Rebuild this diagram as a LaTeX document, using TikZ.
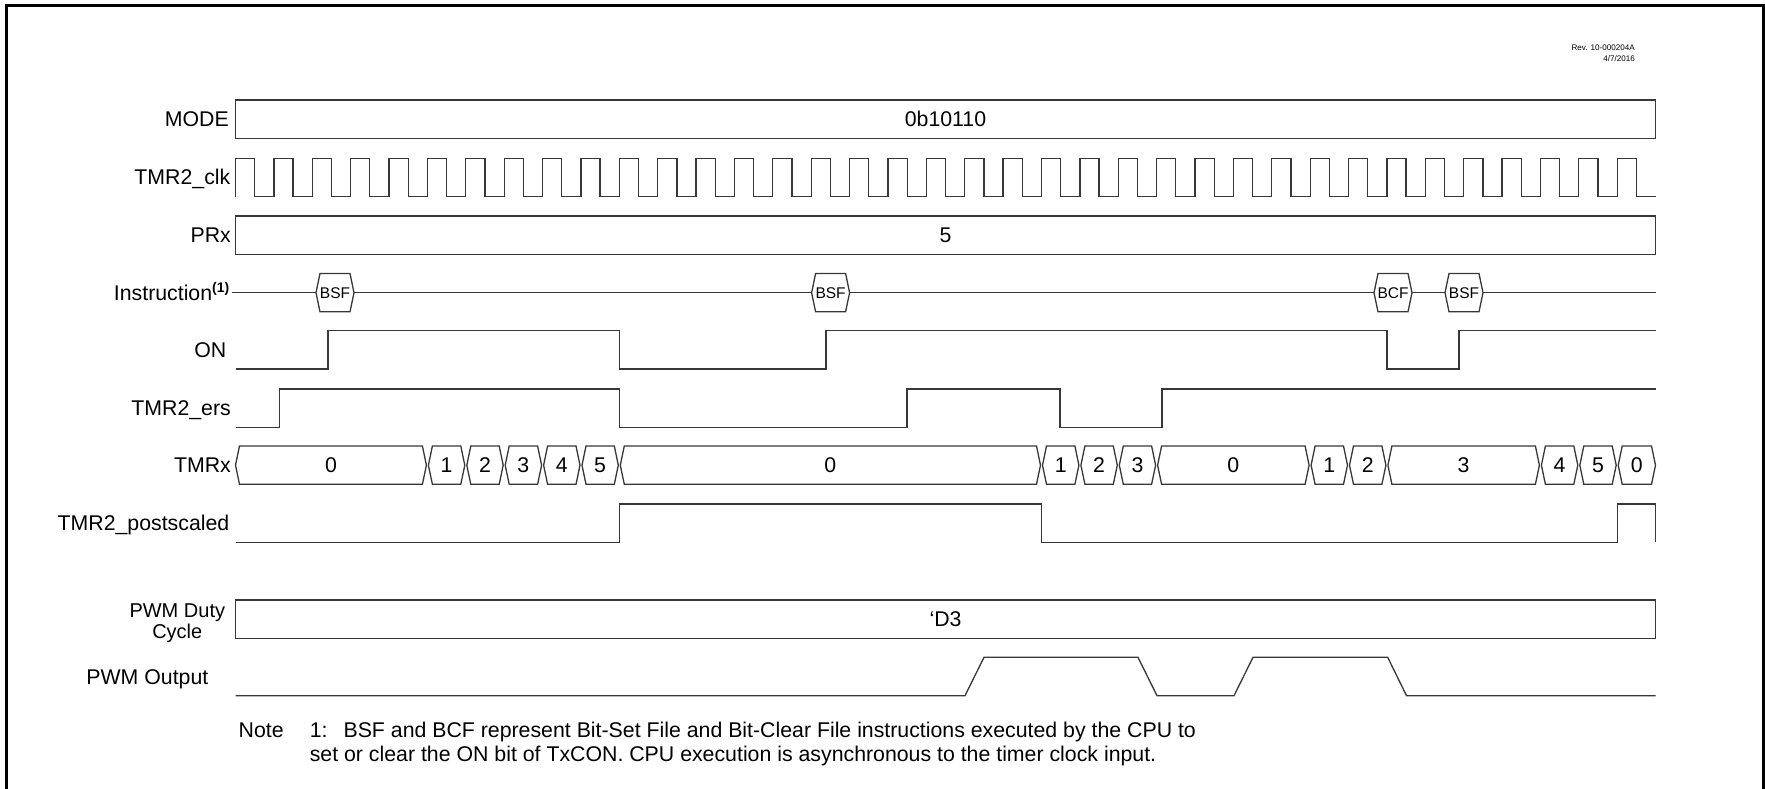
\documentclass[tikz,border=0pt]{standalone}
\usepackage{fontspec}
\setmainfont{Liberation Sans}
\tikzset{
  sig/.style={draw=black!78, line width=1.3pt, line join=miter},
  lbl/.style={font=\fontsize{21.3}{25}\selectfont, inner sep=0pt, text height=15pt, text depth=0pt},
  rlbl/.style={lbl, anchor=east},
  duty/.style={font=\fontsize{20}{24}\selectfont, inner sep=0pt, text height=14pt, text depth=0pt},
  oplbl/.style={font=\fontsize{15.5}{18}\selectfont, inner sep=0pt, text height=11pt, text depth=0pt},
  revlbl/.style={font=\fontsize{8.1}{10.4}\selectfont, inner sep=0pt, align=right, anchor=north east},
  frame/.style={draw=black, line width=3pt}
}
\newcommand\busseg[4]{%
  \draw[sig, fill=white] ({#1+1},465.2) -- ({#1+5},446) -- ({#2-5},446) -- ({#2-1},465.2) -- ({#2-5},484.3) -- ({#1+5},484.3) -- cycle;
  \node[lbl] (#4) at ({(#1+#2)/2},465.2) {#3};}
\newcommand\hexop[3]{%
  \draw[sig, fill=white] ({#2-19},292.7) -- ({#2-15},273.5) -- ({#2+15},273.5) -- ({#2+19},292.7) -- ({#2+15},311.8) -- ({#2-15},311.8) -- cycle;
  \node[oplbl] (#1) at (#2,292.7) {#3};}
\begin{document}
\begin{tikzpicture}[x=1pt,y=-1pt]
\useasboundingbox (0,0) rectangle (1765,789);
% frame
\draw[frame] (6,795) -- (6,6) -- (1763,6) -- (1763,795);
% revision
\node[revlbl] (rev) at (1635,45) {Rev. 10-000204A\\4/7/2016};
% MODE
\node[rlbl] (lmode) at (229,119.25) {MODE};
\draw[sig] (235.5,100) rectangle (1655.5,138.5);
\node[lbl] (vmode) at (945.5,119.25) {0b10110};
% TMR2_clk
\node[rlbl] (lclk) at (230.5,177.5) {TMR2\_clk};
\draw[sig] (235.5,196.7)
  \foreach \k in {0,...,36} { -- ({235.5+38.38*\k},196.7) -- ({235.5+38.38*\k},158.3) -- ({235.5+38.38*\k+19.19},158.3) -- ({235.5+38.38*\k+19.19},196.7) }
  -- (1655.5,196.7);
% PRx
\node[rlbl] (lprx) at (231,235.2) {PRx};
\draw[sig] (235.5,216) rectangle (1655.5,254.3);
\node[lbl] (vprx) at (945.5,235.2) {5};
% Instruction
\node[rlbl] (linst) at (230,292.7) {Instruction\textsuperscript{\bfseries\fontsize{14}{14}\selectfont(1)}};
\draw[sig] (231.5,292.7) -- (1655.5,292.7);
\hexop{op1}{335}{BSF}
\hexop{op2}{830.6}{BSF}
\hexop{op3}{1393}{BCF}
\hexop{op4}{1464}{BSF}
% ON
\node[rlbl] (lon) at (226.5,349.8) {ON};
\draw[sig] (235.5,369) -- (328,369) -- (328,330.7) -- (619.3,330.7) -- (619.3,369) -- (826,369) -- (826,330.7) -- (1387,330.7) -- (1387,369) -- (1459,369) -- (1459,330.7) -- (1655.5,330.7);
% TMR2_ers
\node[rlbl] (lers) at (231,408.2) {TMR2\_ers};
\draw[sig] (235.5,427.3) -- (279.4,427.3) -- (279.4,389) -- (619.3,389) -- (619.3,427.3) -- (907,427.3) -- (907,389) -- (1060,389) -- (1060,427.3) -- (1162,427.3) -- (1162,389) -- (1655.5,389);
% TMRx
\node[rlbl] (ltmr) at (231,465.2) {TMRx};
\busseg{234.5}{427.4}{0}{t1}
\busseg{427.4}{465.8}{1}{t2}
\busseg{465.8}{504.2}{2}{t3}
\busseg{504.2}{542.6}{3}{t4}
\busseg{542.6}{581}{4}{t5}
\busseg{581}{619.3}{5}{t6}
\busseg{619.3}{1041.5}{0}{t7}
\busseg{1041.5}{1079.9}{1}{t8}
\busseg{1079.9}{1118.3}{2}{t9}
\busseg{1118.3}{1156.6}{3}{t10}
\busseg{1156.6}{1310.1}{0}{t11}
\busseg{1310.1}{1348.5}{1}{t12}
\busseg{1348.5}{1386.9}{2}{t13}
\busseg{1386.9}{1540.4}{3}{t14}
\busseg{1540.4}{1578.8}{4}{t15}
\busseg{1578.8}{1617.2}{5}{t16}
\busseg{1617.2}{1656.5}{0}{t17}
% TMR2_postscaled
\node[rlbl] (lpost) at (229.5,523.2) {TMR2\_postscaled};
\draw[sig] (235.5,542.3) -- (619.3,542.3) -- (619.3,504) -- (1041.5,504) -- (1041.5,542.3) -- (1617.2,542.3) -- (1617.2,504) -- (1655.5,504) -- (1655.5,542.3);
% PWM Duty Cycle
\node[duty] (lduty1) at (177.3,610) {PWM Duty};
\node[duty] (lduty2) at (177.3,631.7) {Cycle};
\draw[sig] (235.5,600) rectangle (1655.5,638.3);
\node[lbl] (vduty) at (945.5,619.2) {‘D3};
% PWM Output
\node[rlbl] (lpwm) at (208.5,676.5) {PWM Output};
\draw[sig] (235.5,695.7) -- (965,695.7) -- (984,657.3) -- (1138,657.3) -- (1157,695.7) -- (1234,695.7) -- (1253,657.3) -- (1387.7,657.3) -- (1406.5,695.7) -- (1655.5,695.7);
% Note
\node[lbl, anchor=west] (note) at (238.5,730) {Note};
\node[lbl, anchor=west] (note1) at (309.6,730) {1:\hspace{16pt}BSF and BCF represent Bit-Set File and Bit-Clear File instructions executed by the CPU to};
\node[lbl, anchor=west] (note2) at (309.6,753.5) {set or clear the ON bit of TxCON. CPU execution is asynchronous to the timer clock input.};
\end{tikzpicture}
\end{document}
